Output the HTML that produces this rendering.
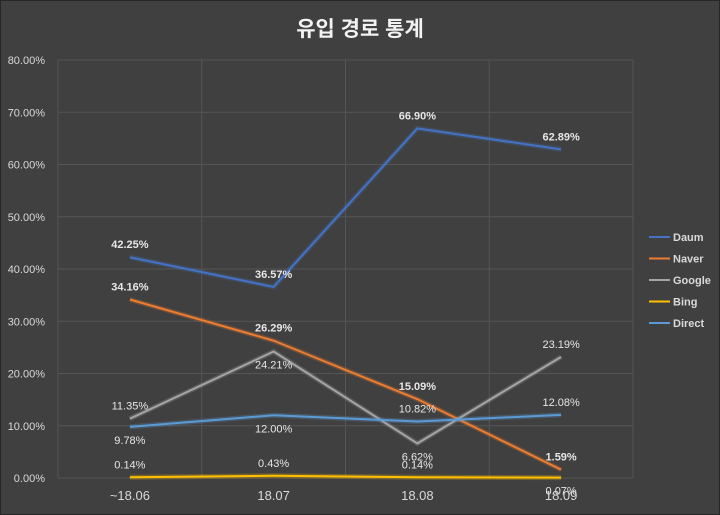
<!DOCTYPE html>
<html><head><meta charset="utf-8"><style>
body{margin:0;background:#404040;}
svg{display:block;font-family:"Liberation Sans","Noto Sans CJK KR",sans-serif;}
</style></head><body>
<svg id="c" width="720" height="515">
<rect x="0.5" y="0.5" width="719" height="514" fill="#404040" stroke="#262626"/>
<text x="360" y="36" text-anchor="middle" font-size="21" font-weight="bold" fill="#f2f2f2">유입 경로 통계</text>
<g id="grid"></g><g id="series"></g><g id="labels"></g><g id="legend"></g>
</svg>
<script>
const categories=["~18.06","18.07","18.08","18.09"];
const yTicks=[0,10,20,30,40,50,60,70,80];
const seriesNames=["Daum","Naver","Google","Bing","Direct"];
const daum=[42.25,36.57,66.90,62.89];
const naver=[34.16,26.29,15.09,1.59];
const google=[11.35,24.21,6.62,23.19];
const bing=[0.14,0.43,0.14,0.07];
const direct=[9.78,12.00,10.82,12.08];
const colors=["#4472c4","#ed7d31","#a5a5a5","#ffc000","#5b9bd5"];
const allSeries=[daum,naver,google,bing,direct];
// label placement: -1 above, +1 below
const place=[[-1,-1,-1,-1],[-1,-1,-1,-1],[-1,1,1,-1],[-1,-1,-1,1],[1,1,-1,-1]];
const bold=[true,true,false,false,false];
const NS="http://www.w3.org/2000/svg";
const L=58,R=633,T=60,B=478;
const x=i=>L+(R-L)/categories.length*(i+0.5);
const y=v=>B-(B-T)*v/80;
function mk(tag,attrs,parent){const e=document.createElementNS(NS,tag);for(const k in attrs)e.setAttribute(k,attrs[k]);parent.appendChild(e);return e;}
const g=document.getElementById('grid');
yTicks.forEach(t=>{
 const ln=mk('line',{x1:L,x2:R,y1:y(t),y2:y(t),stroke:'#555','stroke-width':1},g);
 
 
 const tx=mk('text',{x:45,y:y(t)+4,'text-anchor':'end','font-size':11,fill:'#d9d9d9'},g);
 tx.textContent=t.toFixed(2)+'%';
 
 
});
for(let i=0;i<=categories.length;i++){
 const xv=L+(R-L)/categories.length*i;
 const ln=mk('line',{x1:xv,x2:xv,y1:T,y2:B,stroke:'#555','stroke-width':1},g);
 
 
}
categories.forEach((c,i)=>{
 const tx=mk('text',{x:x(i),y:500,'text-anchor':'middle','font-size':13,fill:'#d9d9d9'},g);
 tx.textContent=c;
 
 
});
const sg=document.getElementById('series'),lg=document.getElementById('labels');
allSeries.forEach((s,k)=>{
 const pts=s.map((v,i)=>x(i)+','+y(v)).join(' ');
 const glow=mk('polyline',{points:pts,fill:'none',stroke:colors[k],'stroke-width':5,'stroke-opacity':0.25},sg);
 
 
 const pl=mk('polyline',{points:pts,fill:'none',stroke:colors[k],'stroke-width':2},sg);
 
 
 s.forEach((v,i)=>{
  const dy=place[k][i]<0?-9:17;
  const tx=mk('text',{x:x(i),y:y(v)+dy,'text-anchor':'middle','font-size':11,fill:'#e6e6e6','font-weight':bold[k]?'bold':'normal'},lg);
  tx.textContent=v.toFixed(2)+'%';
  
  
 });
});
const lgd=document.getElementById('legend');
seriesNames.forEach((n,k)=>{
 const yy=237+k*21.5;
 const ln=mk('line',{x1:649,x2:670,y1:yy,y2:yy,stroke:colors[k],'stroke-width':2},lgd);
 
 
 const tx=mk('text',{x:673,y:yy+4,'font-size':11,'font-weight':'bold',fill:'#d9d9d9'},lgd);
 tx.textContent=n;
 
 
});
</script>
</body></html>
